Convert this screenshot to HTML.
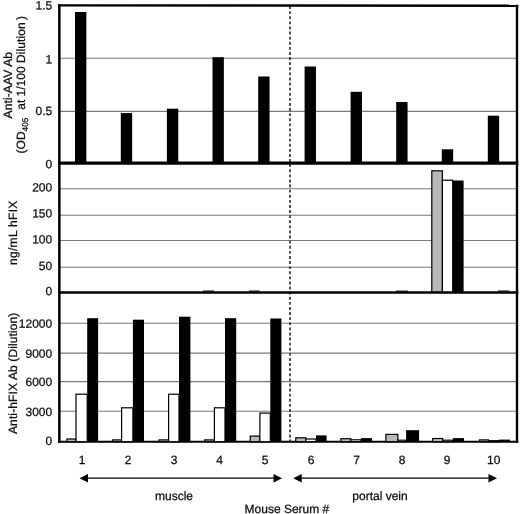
<!DOCTYPE html><html><head><meta charset="utf-8"><style>
html,body{margin:0;padding:0;background:#fff;-webkit-font-smoothing:antialiased;}
svg{display:block;will-change:transform;opacity:0.999;}
text{font-family:"Liberation Sans",sans-serif;font-size:12px;fill:#0c0c0c;stroke:#0c0c0c;stroke-width:0.25px;text-rendering:geometricPrecision;}
</style></head><body>
<svg width="520" height="514" viewBox="0 0 520 514">
<rect x="0" y="0" width="520" height="514" fill="#fff"/>
<line x1="59.0" x2="517.3" y1="58.3" y2="58.3" stroke="#7a7a7a" stroke-width="1.1"/>
<line x1="59.0" x2="517.3" y1="111.4" y2="111.4" stroke="#7a7a7a" stroke-width="1.1"/>
<line x1="59.0" x2="517.3" y1="188.7" y2="188.7" stroke="#7a7a7a" stroke-width="1.1"/>
<line x1="59.0" x2="517.3" y1="215.3" y2="215.3" stroke="#7a7a7a" stroke-width="1.1"/>
<line x1="59.0" x2="517.3" y1="240.5" y2="240.5" stroke="#7a7a7a" stroke-width="1.1"/>
<line x1="59.0" x2="517.3" y1="267.2" y2="267.2" stroke="#7a7a7a" stroke-width="1.1"/>
<line x1="59.0" x2="517.3" y1="323.2" y2="323.2" stroke="#7a7a7a" stroke-width="1.1"/>
<line x1="59.0" x2="517.3" y1="353.1" y2="353.1" stroke="#7a7a7a" stroke-width="1.1"/>
<line x1="59.0" x2="517.3" y1="381.6" y2="381.6" stroke="#7a7a7a" stroke-width="1.1"/>
<line x1="59.0" x2="517.3" y1="411.3" y2="411.3" stroke="#7a7a7a" stroke-width="1.1"/>
<line x1="290" x2="290" y1="6.1" y2="441" stroke="#1a1a1a" stroke-width="1.5" stroke-dasharray="2.9 2.2"/>
<rect x="75" y="12" width="11.35" height="151.2" fill="#000"/>
<rect x="120.8" y="113.1" width="11.35" height="50.099999999999994" fill="#000"/>
<rect x="166.9" y="108.7" width="11.35" height="54.499999999999986" fill="#000"/>
<rect x="212.5" y="57.2" width="11.35" height="105.99999999999999" fill="#000"/>
<rect x="258.2" y="76.5" width="11.35" height="86.69999999999999" fill="#000"/>
<rect x="304.6" y="66.5" width="11.35" height="96.69999999999999" fill="#000"/>
<rect x="350.6" y="91.8" width="11.35" height="71.39999999999999" fill="#000"/>
<rect x="396.2" y="102" width="11.35" height="61.19999999999999" fill="#000"/>
<rect x="441.8" y="149.3" width="11.35" height="13.899999999999977" fill="#000"/>
<rect x="487.8" y="115.7" width="11.35" height="47.499999999999986" fill="#000"/>
<rect x="431.8" y="170.8" width="10.6" height="121.69999999999999" fill="#b9b9b9" stroke="#000" stroke-width="1.2"/>
<rect x="442.4" y="180.2" width="10.3" height="112.30000000000001" fill="#fff" stroke="#000" stroke-width="1.2"/>
<rect x="452.7" y="180.5" width="10.9" height="112.0" fill="#000"/>
<rect x="498" y="290.5" width="11.5" height="1" fill="#000"/>
<rect x="203" y="290.5" width="11" height="1" fill="#000"/>
<rect x="249" y="290.5" width="10.5" height="1" fill="#000"/>
<rect x="396" y="290.6" width="12" height="1" fill="#000"/>
<line x1="58.0" x2="518.3" y1="441.7" y2="441.7" stroke="#000" stroke-width="2.1"/>
<rect x="66.90" y="439.00" width="9.10" height="2.70" fill="#b9b9b9" stroke="#000" stroke-width="1.2"/>
<rect x="76.00" y="394.20" width="11.20" height="47.50" fill="#fff" stroke="#000" stroke-width="1.2"/>
<rect x="87.20" y="318.2" width="10.90" height="123.50" fill="#000"/>
<rect x="112.50" y="439.90" width="9.10" height="1.80" fill="#b9b9b9" stroke="#000" stroke-width="1.2"/>
<rect x="121.60" y="407.80" width="11.30" height="33.90" fill="#fff" stroke="#000" stroke-width="1.2"/>
<rect x="132.90" y="319.7" width="11.10" height="122.00" fill="#000"/>
<rect x="159.10" y="439.90" width="9.50" height="1.80" fill="#b9b9b9" stroke="#000" stroke-width="1.2"/>
<rect x="168.60" y="394.20" width="10.40" height="47.50" fill="#fff" stroke="#000" stroke-width="1.2"/>
<rect x="179.00" y="316.7" width="11.40" height="125.00" fill="#000"/>
<rect x="204.60" y="439.90" width="9.80" height="1.80" fill="#b9b9b9" stroke="#000" stroke-width="1.2"/>
<rect x="214.40" y="407.80" width="10.60" height="33.90" fill="#fff" stroke="#000" stroke-width="1.2"/>
<rect x="225.00" y="318.2" width="11.20" height="123.50" fill="#000"/>
<rect x="250.20" y="436.10" width="9.70" height="5.60" fill="#b9b9b9" stroke="#000" stroke-width="1.2"/>
<rect x="259.90" y="413.10" width="10.40" height="28.60" fill="#fff" stroke="#000" stroke-width="1.2"/>
<rect x="270.30" y="318.5" width="11.10" height="123.20" fill="#000"/>
<rect x="295.80" y="437.80" width="10.00" height="3.90" fill="#b9b9b9" stroke="#000" stroke-width="1.2"/>
<rect x="305.80" y="439.00" width="10.20" height="2.70" fill="#fff" stroke="#000" stroke-width="1.2"/>
<rect x="316.00" y="435.4" width="10.60" height="6.30" fill="#000"/>
<rect x="340.90" y="438.70" width="9.90" height="3.00" fill="#b9b9b9" stroke="#000" stroke-width="1.2"/>
<rect x="350.80" y="439.80" width="10.20" height="1.90" fill="#fff" stroke="#000" stroke-width="1.2"/>
<rect x="361.00" y="438.1" width="11.00" height="3.60" fill="#000"/>
<rect x="385.90" y="434.40" width="12.00" height="7.30" fill="#b9b9b9" stroke="#000" stroke-width="1.2"/>
<rect x="397.90" y="440.20" width="8.20" height="1.50" fill="#fff" stroke="#000" stroke-width="1.2"/>
<rect x="406.10" y="430.2" width="13.00" height="11.50" fill="#000"/>
<rect x="432.60" y="438.50" width="10.10" height="3.20" fill="#b9b9b9" stroke="#000" stroke-width="1.2"/>
<rect x="442.70" y="440.20" width="10.20" height="1.50" fill="#fff" stroke="#000" stroke-width="1.2"/>
<rect x="452.90" y="438.1" width="11.10" height="3.60" fill="#000"/>
<rect x="479.50" y="439.90" width="9.00" height="1.80" fill="#b9b9b9" stroke="#000" stroke-width="1.2"/>
<rect x="488.50" y="440.70" width="10.50" height="1.00" fill="#fff" stroke="#000" stroke-width="1.2"/>
<rect x="499.00" y="439.6" width="11.00" height="2.10" fill="#000"/>
<line x1="59.35" x2="59.35" y1="4.3" y2="442.75" stroke="#000" stroke-width="2.5"/>
<line x1="517.0" x2="517.0" y1="4.7" y2="442.75" stroke="#000" stroke-width="2.4"/>
<line x1="58.0" x2="518.3" y1="5.4" y2="5.75" stroke="#000" stroke-width="2.4"/>
<line x1="58.0" x2="518.3" y1="163.2" y2="163.2" stroke="#000" stroke-width="3.2"/>
<line x1="58.0" x2="518.3" y1="292.5" y2="292.5" stroke="#000" stroke-width="2.7"/>
<text transform="translate(52.2,9.45) rotate(0.03)" text-anchor="end">1.5</text>
<text transform="translate(52.2,63.40) rotate(0.03)" text-anchor="end">1</text>
<text transform="translate(52.2,115.00) rotate(0.03)" text-anchor="end">0.5</text>
<text transform="translate(52.2,168.30) rotate(0.03)" text-anchor="end">0</text>
<text transform="translate(52.2,191.40) rotate(0.03)" text-anchor="end">200</text>
<text transform="translate(52.2,217.55) rotate(0.03)" text-anchor="end">150</text>
<text transform="translate(52.2,243.50) rotate(0.03)" text-anchor="end">100</text>
<text transform="translate(52.2,270.00) rotate(0.03)" text-anchor="end">50</text>
<text transform="translate(52.2,295.30) rotate(0.03)" text-anchor="end">0</text>
<text transform="translate(52.2,327.80) rotate(0.03)" text-anchor="end">12000</text>
<text transform="translate(52.2,357.80) rotate(0.03)" text-anchor="end">9000</text>
<text transform="translate(52.2,385.90) rotate(0.03)" text-anchor="end">6000</text>
<text transform="translate(52.2,415.90) rotate(0.03)" text-anchor="end">3000</text>
<text transform="translate(52.2,445.10) rotate(0.03)" text-anchor="end">0</text>
<text x="82" y="464.2" text-anchor="middle">1</text>
<text x="128" y="464.2" text-anchor="middle">2</text>
<text x="174.2" y="464.2" text-anchor="middle">3</text>
<text x="219.5" y="464.2" text-anchor="middle">4</text>
<text x="265" y="464.2" text-anchor="middle">5</text>
<text x="311.2" y="464.2" text-anchor="middle">6</text>
<text x="356.5" y="464.2" text-anchor="middle">7</text>
<text x="402" y="464.2" text-anchor="middle">8</text>
<text x="447" y="464.2" text-anchor="middle">9</text>
<text x="493.8" y="464.2" text-anchor="middle">10</text>
<line x1="84.5" x2="277" y1="478.2" y2="478.2" stroke="#000" stroke-width="1.25"/>
<polygon points="79.5,478.2 88.0,474.0 88.0,482.4" fill="#000"/>
<polygon points="282,478.2 273.5,474.0 273.5,482.4" fill="#000"/>
<line x1="298.2" x2="492" y1="478.2" y2="478.2" stroke="#000" stroke-width="1.25"/>
<polygon points="293.2,478.2 301.7,474.0 301.7,482.4" fill="#000"/>
<polygon points="497,478.2 488.5,474.0 488.5,482.4" fill="#000"/>
<text x="155" y="499.6">muscle</text>
<text x="352.3" y="499.6">portal vein</text>
<text x="244.6" y="512.9">Mouse Serum #</text>
<text transform="translate(11.9,118.4) rotate(-90)" letter-spacing="0.12">Anti-AAV Ab</text>
<text transform="translate(25.0,153.4) rotate(-90)">(OD<tspan font-size="8.2px" dy="2.7">405</tspan><tspan dy="-2.7" dx="8.0">at 1/100 </tspan><tspan letter-spacing="0.08">Dilution</tspan><tspan dx="2.3">)</tspan></text>
<text transform="translate(16.8,265) rotate(-90)" letter-spacing="0.3">ng/mL hFIX</text>
<text transform="translate(16.9,434) rotate(-90)" letter-spacing="0.12">Anti-hFIX Ab (Dilution)</text>
</svg></body></html>
